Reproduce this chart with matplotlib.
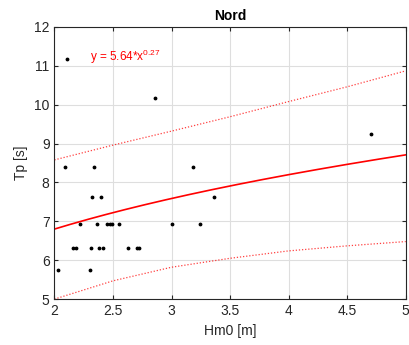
import numpy as np
import matplotlib.pyplot as plt

plt.rcParams['font.family'] = ['Liberation Sans', 'DejaVu Sans']
plt.rcParams['mathtext.fontset'] = 'custom'
plt.rcParams['mathtext.rm'] = 'Liberation Sans'
plt.rcParams['mathtext.it'] = 'Liberation Sans'

# measured points (Hm0 [m], Tp [s])
hm0 = [2.03, 2.305, 2.157, 2.185, 2.311, 2.382, 2.418, 2.627, 2.709, 2.726,
       2.22, 2.365, 2.45, 2.473, 2.495, 2.553, 3.00, 3.245,
       2.32, 2.40, 3.36, 2.09, 2.34, 3.18, 4.70, 2.86, 2.11]
tp = [5.74, 5.74, 6.31, 6.31, 6.31, 6.31, 6.31, 6.31, 6.31, 6.31,
      6.94, 6.94, 6.94, 6.94, 6.94, 6.94, 6.94, 6.94,
      7.63, 7.63, 7.63, 8.40, 8.40, 8.40, 9.24, 10.16, 11.18]

# fit y = a*x^b
a_fit = 5.64
b_fit = 0.27

# bounds
x_bound = [2.0, 2.5, 3.0, 3.5, 4.0, 4.5, 5.0]
upper = [8.58, 8.96, 9.32, 9.69, 10.08, 10.46, 10.87]
lower = [5.00, 5.47, 5.82, 6.05, 6.24, 6.37, 6.48]

xs = np.linspace(2, 5, 200)

fig = plt.figure(figsize=(4.09, 3.45), dpi=100)
ax = fig.add_axes([0.133, 0.133, 0.859, 0.789])

ax.plot(hm0, tp, 'k.', markersize=3.5)
ax.plot(xs, a_fit * xs ** b_fit, color='red', lw=1.2)
ax.plot(x_bound, upper, color='red', ls=(0, (1, 1.5)), lw=0.9, alpha=0.75)
ax.plot(x_bound, lower, color='red', ls=(0, (1, 1.5)), lw=0.9, alpha=0.75)

ax.text(2.3, 11.22, r'y = 5.64*x$^{0.27}$', color='red', fontsize=8.5, va='center')

ax.set_xlim(2, 5)
ax.set_ylim(5, 12)
ax.set_xticks([2, 2.5, 3, 3.5, 4, 4.5, 5])
ax.set_xticklabels(['2', '2.5', '3', '3.5', '4', '4.5', '5'])
ax.set_yticks(range(5, 13))
ax.grid(True, color='#dedede', lw=0.8)
ax.set_axisbelow(True)
ax.tick_params(direction='in', top=True, right=True, labelsize=10, colors='#262626', length=3)
for s in ax.spines.values():
    s.set_color('#262626')
    s.set_linewidth(0.8)

ax.set_xlabel('Hm0 [m]', fontsize=10, color='#262626')
ax.set_ylabel('Tp [s]', fontsize=10, color='#262626')
ax.set_title('Nord', fontsize=10, fontweight='bold', pad=5)

fig.savefig('out.png', dpi=100)
